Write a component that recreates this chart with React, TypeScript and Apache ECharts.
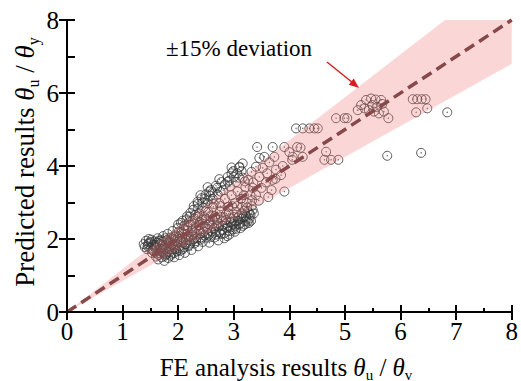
import React, { useEffect, useRef } from "react";
import * as echarts from "echarts";

// x/y axis ticks
const xTicks = [0, 1, 2, 3, 4, 5, 6, 7, 8];
const yTicks = [0, 2, 4, 6, 8];

// dense cloud of FE vs predicted results
const cloudPoints: number[][] = [
  [1.38, 1.86], [1.42, 1.95], [1.45, 1.80], [1.48, 1.90], [1.50, 1.74], [1.52, 1.98], [1.55, 1.84], [1.56, 1.66],
  [1.58, 1.93], [1.60, 1.52], [1.61, 1.76], [1.63, 2.02], [1.64, 1.44], [1.66, 1.62], [1.67, 1.86], [1.69, 1.96],
  [1.70, 1.50], [1.72, 1.70], [1.73, 2.08], [1.75, 1.40], [1.76, 1.82], [1.78, 1.58], [1.79, 1.96], [1.81, 2.14],
  [1.82, 1.48], [1.84, 1.72], [1.85, 1.88], [1.87, 2.04], [1.88, 1.60], [1.90, 2.22], [1.91, 1.78], [1.93, 1.50],
  [1.94, 1.94], [1.96, 2.10], [1.97, 1.66], [1.99, 2.30], [2.00, 1.84], [2.02, 1.56], [2.03, 2.00], [2.05, 2.44],
  [2.06, 2.18], [2.08, 1.72], [2.09, 1.90], [2.11, 2.36], [2.12, 1.62], [2.14, 2.06], [2.15, 2.54], [2.17, 2.24],
  [2.18, 1.80], [2.20, 1.96], [2.21, 2.62], [2.23, 2.40], [2.24, 1.70], [2.26, 2.12], [2.27, 2.80], [2.29, 1.88],
  [2.30, 2.56], [2.32, 2.30], [2.33, 2.02], [2.35, 2.96], [2.36, 1.80], [2.38, 2.70], [2.39, 2.46], [2.41, 2.16],
  [2.42, 3.12], [2.44, 1.92], [2.45, 2.86], [2.47, 2.60], [2.48, 2.34], [2.50, 3.22], [2.51, 2.04], [2.53, 2.98],
  [2.54, 2.74], [2.56, 1.90], [2.57, 2.48], [2.59, 3.34], [2.60, 2.20], [2.62, 3.10], [2.63, 2.88], [2.65, 2.04],
  [2.66, 2.62], [2.68, 3.46], [2.69, 2.36], [2.71, 3.22], [2.72, 1.96], [2.74, 2.98], [2.75, 2.76], [2.77, 2.14],
  [2.78, 3.56], [2.80, 2.50], [2.81, 3.34], [2.83, 2.02], [2.84, 3.10], [2.86, 2.68], [2.87, 2.30], [2.89, 3.70],
  [2.90, 2.88], [2.92, 2.12], [2.93, 3.44], [2.95, 2.56], [2.96, 3.20], [2.98, 2.40], [2.99, 3.86], [3.01, 2.98],
  [3.02, 2.20], [3.04, 3.56], [3.05, 2.74], [3.07, 3.30], [3.08, 2.50], [3.10, 3.96], [3.12, 2.30], [3.13, 3.10],
  [3.15, 2.88], [3.16, 3.68], [3.18, 2.60], [3.20, 2.40], [3.21, 3.42], [3.23, 3.00], [3.25, 2.76], [3.26, 3.62],
  [3.28, 2.56], [3.30, 3.20], [3.32, 2.90], [3.34, 3.40], [3.36, 2.70],
  [1.44, 1.72], [1.47, 2.00], [1.53, 1.62], [1.57, 1.78], [1.62, 1.90], [1.65, 1.56], [1.68, 1.74], [1.71, 1.92],
  [1.74, 1.62], [1.77, 2.02], [1.80, 1.66], [1.83, 1.92], [1.86, 1.54], [1.89, 1.84], [1.92, 2.06], [1.95, 1.72],
  [1.98, 1.92], [2.01, 2.20], [2.04, 1.68], [2.07, 2.04], [2.10, 2.28], [2.13, 1.86], [2.16, 2.14], [2.19, 2.46],
  [2.22, 1.88], [2.25, 2.22], [2.28, 2.00], [2.31, 2.66], [2.34, 2.14], [2.37, 2.38], [2.40, 1.98], [2.43, 2.52],
  [2.46, 2.20], [2.49, 2.76], [2.52, 2.28], [2.55, 2.10], [2.58, 2.62], [2.61, 2.36], [2.64, 2.96], [2.67, 2.20],
  [2.70, 2.52], [2.73, 2.34], [2.76, 2.90], [2.79, 2.24], [2.82, 2.60], [2.85, 2.42], [2.88, 2.08], [2.91, 2.70],
  [2.94, 2.32], [2.97, 2.90], [3.00, 2.60], [3.03, 2.36], [3.06, 2.90], [3.09, 2.62], [3.12, 2.44], [3.15, 2.70],
  [3.18, 3.20], [3.21, 2.50], [3.24, 2.86], [3.27, 2.44], [3.30, 2.66], [3.33, 3.06],
  [1.40, 1.78], [1.46, 1.86], [1.51, 1.92], [1.54, 1.70], [1.59, 1.84], [1.62, 1.60], [1.66, 1.96], [1.69, 1.66],
  [1.72, 1.84], [1.76, 1.54], [1.78, 1.74], [1.81, 1.98], [1.84, 1.64], [1.87, 1.80], [1.90, 2.00], [1.93, 1.62],
  [1.96, 1.82], [1.99, 2.02], [2.02, 1.74], [2.05, 1.94], [2.08, 2.14], [2.11, 1.78], [2.14, 1.98], [2.17, 2.36],
  [2.20, 1.84], [2.23, 2.06], [2.26, 2.50], [2.29, 2.18], [2.32, 1.94], [2.35, 2.62], [2.38, 2.24], [2.41, 2.04],
  [2.44, 2.42], [2.47, 2.10], [2.50, 2.56], [2.53, 2.16], [2.56, 2.40], [2.59, 2.06], [2.62, 2.54], [2.65, 2.30],
  [2.68, 2.12], [2.71, 2.44], [2.74, 2.18], [2.77, 2.60], [2.80, 2.36], [2.83, 2.16], [2.86, 2.52], [2.89, 2.36],
  [2.92, 2.22], [2.95, 2.46], [2.98, 2.26], [3.01, 2.48], [3.04, 2.28], [3.07, 2.58], [3.10, 2.40], [3.13, 2.56],
  [3.16, 2.36], [3.19, 2.78], [3.22, 2.62], [3.25, 2.48], [3.28, 2.70], [3.31, 2.50], [3.34, 2.80],
  [2.00, 2.40], [2.08, 2.50], [2.16, 2.62], [2.22, 2.72], [2.28, 2.90], [2.36, 2.84], [2.44, 3.00], [2.48, 3.10],
  [2.58, 3.18], [2.62, 3.28], [2.70, 3.40], [2.76, 3.30], [2.84, 3.50], [2.92, 3.60], [3.00, 3.70], [3.06, 3.80],
  [3.14, 3.86], [3.20, 3.58],
];

// sparser points at larger ratios
const sparsePoints: number[][] = [
  [2.35, 3.02], [2.40, 3.20], [2.53, 3.05], [2.56, 3.30], [2.53, 3.42], [2.74, 3.64], [2.89, 3.57], [2.96, 3.80],
  [2.96, 3.96], [3.10, 3.68], [3.10, 3.98], [3.16, 4.07], [3.32, 3.84], [3.42, 4.52], [3.46, 4.22], [3.70, 4.52],
  [3.91, 4.52], [4.14, 4.52], [3.40, 3.98], [3.52, 3.95], [3.64, 4.10], [3.76, 3.90], [3.88, 4.00], [4.05, 4.17],
  [4.00, 4.38], [3.46, 3.70], [3.58, 3.55], [3.68, 3.34], [3.91, 3.30], [3.60, 3.80], [3.75, 3.65], [3.85, 3.75],
  [3.50, 3.40], [3.40, 3.20], [3.55, 4.25], [3.73, 4.25], [4.06, 4.25], [4.24, 4.25], [3.70, 3.62], [4.20, 4.50],
  [3.45, 3.05], [3.62, 3.15], [3.35, 3.55],
  [4.12, 5.03], [4.24, 5.03], [4.36, 5.03], [4.45, 5.03], [4.51, 5.03],
  [4.66, 4.39], [4.63, 4.17], [4.75, 4.17], [4.88, 4.17],
  [4.84, 5.31], [4.99, 5.31], [5.04, 5.31],
  [5.29, 5.67], [5.38, 5.81], [5.47, 5.85], [5.55, 5.82], [5.65, 5.81], [5.49, 5.67], [5.58, 5.62], [5.67, 5.70],
  [5.35, 5.58], [5.43, 5.53], [5.52, 5.49], [5.61, 5.44], [5.70, 5.49], [5.78, 5.31], [5.23, 5.53],
  [6.22, 5.83], [6.30, 5.83], [6.38, 5.83], [6.45, 5.83],
  [6.28, 5.47], [6.48, 5.58], [6.84, 5.47],
  [5.76, 4.28], [6.37, 4.36],
];

// ±15% deviation band and 1:1 line
const bandLower: number[][] = [[0, 0], [8, 6.8]];
const bandUpper: number[][] = [[0, 0], [6.8, 8], [8, 8]];
const equalLine: number[][] = [[0, 0], [8, 8]];

const FONT = "Liberation Serif";

export default function App() {
  const ref = useRef<HTMLDivElement>(null);
  useEffect(() => {
    if (!ref.current) return;
    const chart = echarts.init(ref.current, undefined, { renderer: "svg" });
    const allPoints = [...cloudPoints, ...sparsePoints];
    const axisLine = { show: true, lineStyle: { color: "#000", width: 2 } };
    const mkRich = (size: number) => ({
      t: { fontFamily: FONT, fontSize: size, fontStyle: "italic", lineHeight: size + 5, color: "#000" },
      s: { fontFamily: FONT, fontSize: Math.round(size * 0.6), lineHeight: 14, verticalAlign: "bottom", color: "#000" },
    });
    chart.setOption({
      animation: false,
      textStyle: { fontFamily: FONT },
      grid: { left: 67, right: 8, top: 20, bottom: 69, containLabel: false },
      xAxis: [
        {
          type: "value", min: xTicks[0], max: xTicks[xTicks.length - 1], interval: 1, z: 10,
          axisLine, splitLine: { show: false },
          axisTick: { show: true, inside: true, length: 7, lineStyle: { width: 2, color: "#000" } },
          minorTick: { show: true, splitNumber: 2, length: 4, lineStyle: { width: 2, color: "#000" } },
          axisLabel: { fontFamily: FONT, fontSize: 25, color: "#000", margin: 7 },
        },
        {
          type: "value", position: "top", min: xTicks[0], max: xTicks[xTicks.length - 1], interval: 1, z: 10,
          axisLine, splitLine: { show: false },
          axisTick: { show: true, inside: true, length: 8, lineStyle: { width: 2, color: "#000" } },
          axisLabel: { show: false },
        },
      ],
      yAxis: [
        {
          type: "value", min: yTicks[0], max: yTicks[yTicks.length - 1], interval: 2, z: 10,
          axisLine, splitLine: { show: false },
          axisTick: { show: true, inside: true, length: 8, lineStyle: { width: 2, color: "#000" } },
          minorTick: { show: true, splitNumber: 2, length: 8, lineStyle: { width: 2, color: "#000" } },
          axisLabel: { fontFamily: FONT, fontSize: 25, color: "#000", margin: 8 },
        },
        {
          type: "value", position: "right", min: yTicks[0], max: yTicks[yTicks.length - 1], interval: 2, z: 10,
          axisLine, splitLine: { show: false },
          axisTick: { show: true, inside: true, length: 8, lineStyle: { width: 2, color: "#000" } },
          axisLabel: { show: false },
        },
      ],
      series: [
        {
          type: "scatter", data: allPoints, symbol: "circle", symbolSize: 9, z: 2, silent: true,
          itemStyle: { color: "rgba(255,255,255,0)", borderColor: "#333", borderWidth: 1 },
        },
        {
          type: "scatter", data: allPoints, symbol: "circle", symbolSize: 1.4, z: 2, silent: true,
          itemStyle: { color: "#444" },
        },
        {
          type: "custom", data: [[0, 0]], z: 3, silent: true,
          renderItem: (_params: any, api: any) => {
            const pts = [...bandLower, ...bandUpper.slice().reverse()].map((p) => api.coord(p));
            return { type: "polygon", shape: { points: pts }, style: { fill: "rgba(240,120,120,0.3)" } };
          },
        },
        {
          type: "line", data: equalLine, z: 4, symbol: "none", silent: true,
          lineStyle: { color: "#864848", width: 3.5, type: [11, 6] },
        },
      ],
      graphic: [
        {
          type: "text", x: 286, y: 367, z: 20,
          style: {
            text: "FE analysis results {t|θ}{s|u} / {t|θ}{s|v}",
            fontFamily: FONT, fontSize: 25, lineHeight: 30, fill: "#000",
            align: "center", verticalAlign: "middle", rich: mkRich(25),
          },
        },
        {
          type: "text", x: 25, y: 162, rotation: Math.PI / 2, z: 20,
          style: {
            text: "Predicted results {t|θ}{s|u} / {t|θ}{s|y}",
            fontFamily: FONT, fontSize: 27, lineHeight: 32, fill: "#000",
            align: "center", verticalAlign: "middle", rich: mkRich(27),
          },
        },
        {
          type: "text", x: 239, y: 48, z: 20,
          style: {
            text: "±15% deviation", fontFamily: FONT, fontSize: 23, fill: "#000",
            align: "center", verticalAlign: "middle",
          },
        },
        {
          type: "line", z: 20,
          shape: { x1: 327, y1: 62, x2: 353, y2: 83 },
          style: { stroke: "#d42020", lineWidth: 1.5 },
        },
        {
          type: "polygon", z: 20,
          shape: { points: [[359, 88], [348.7, 84.8], [353.7, 78.6]] },
          style: { fill: "#d42020" },
        },
      ],
    });
    return () => chart.dispose();
  }, []);
  return (
    <div
      ref={ref}
      style={{ position: "absolute", left: 0, top: 0, width: 521, height: 381 }}
    />
  );
}
